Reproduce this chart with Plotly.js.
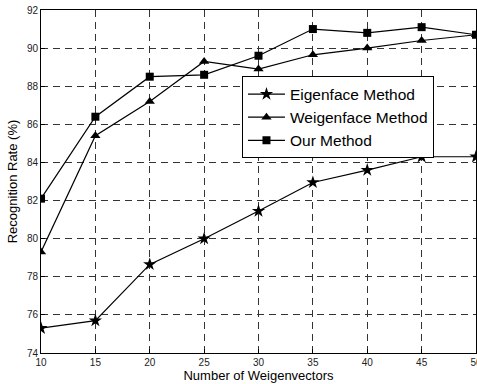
<!DOCTYPE html>
<html>
<head>
<meta charset="utf-8">
<script src="https://cdn.plot.ly/plotly-3.0.1.min.js"></script>
<style>html,body{margin:0;padding:0;background:#fff;}#chart{width:477px;height:384px;}</style>
</head>
<body>
<div id="chart"></div>
<script>
const numVectors = [10, 15, 20, 25, 30, 35, 40, 45, 50];
const eigenface = [75.3, 75.7, 78.65, 80.0, 81.45, 82.95, 83.6, 84.3, 84.3];
const weigenface = [79.3, 85.4, 87.2, 89.3, 88.9, 89.65, 90.0, 90.4, 90.7];
const ourMethod = [82.1, 86.4, 88.5, 88.6, 89.6, 91.0, 90.8, 91.1, 90.7];
const seriesNames = ["Eigenface Method", "Weigenface Method", "Our Method"];

const lineStyle = {color: "#000", width: 1.2};
const traces = [
  {x: numVectors, y: eigenface, name: seriesNames[0], mode: "lines+markers", line: lineStyle,
   marker: {symbol: "star", size: 10, color: "#000"}},
  {x: numVectors, y: weigenface, name: seriesNames[1], mode: "lines+markers", line: lineStyle,
   marker: {symbol: "triangle-up", size: 9, color: "#000"}},
  {x: numVectors, y: ourMethod, name: seriesNames[2], mode: "lines+markers", line: lineStyle,
   marker: {symbol: "square", size: 8, color: "#000"}}
];

const axisCommon = {
  showline: true, linecolor: "#000", linewidth: 1, mirror: true,
  showgrid: true, gridcolor: "#333", gridwidth: 1, griddash: "7px,5px",
  zeroline: false, ticks: "inside", ticklen: 4, tickcolor: "#000",
  ticklabeloverflow: "allow",
  tickfont: {family: "Liberation Sans, Arial, sans-serif", size: 10, color: "#222"}
};

const layout = {
  width: 477, height: 384,
  margin: {l: 41, r: 1, t: 10, b: 31},
  paper_bgcolor: "#fff", plot_bgcolor: "#fff",
  font: {family: "Liberation Sans, Arial, sans-serif", color: "#000"},
  xaxis: Object.assign({}, axisCommon, {
    range: [10, 50], tickmode: "linear", tick0: 10, dtick: 5,
    title: {text: "Number of Weigenvectors", font: {size: 13, color: "#000"}, standoff: 1}
  }),
  yaxis: Object.assign({}, axisCommon, {
    range: [74, 92], tickmode: "linear", tick0: 74, dtick: 2,
    title: {text: "Recognition Rate (%)", font: {size: 13, color: "#000"}, standoff: 6}
  }),
  showlegend: true,
  legend: {
    x: 0.462, y: 0.6866, xanchor: "left", yanchor: "middle",
    bgcolor: "#fff", bordercolor: "#000", borderwidth: 1, itemwidth: 37,
    font: {size: 15.5, color: "#000"}, tracegroupgap: 0
  }
};

Plotly.newPlot("chart", traces, layout, {displayModeBar: false, staticPlot: true});
</script>
</body>
</html>
